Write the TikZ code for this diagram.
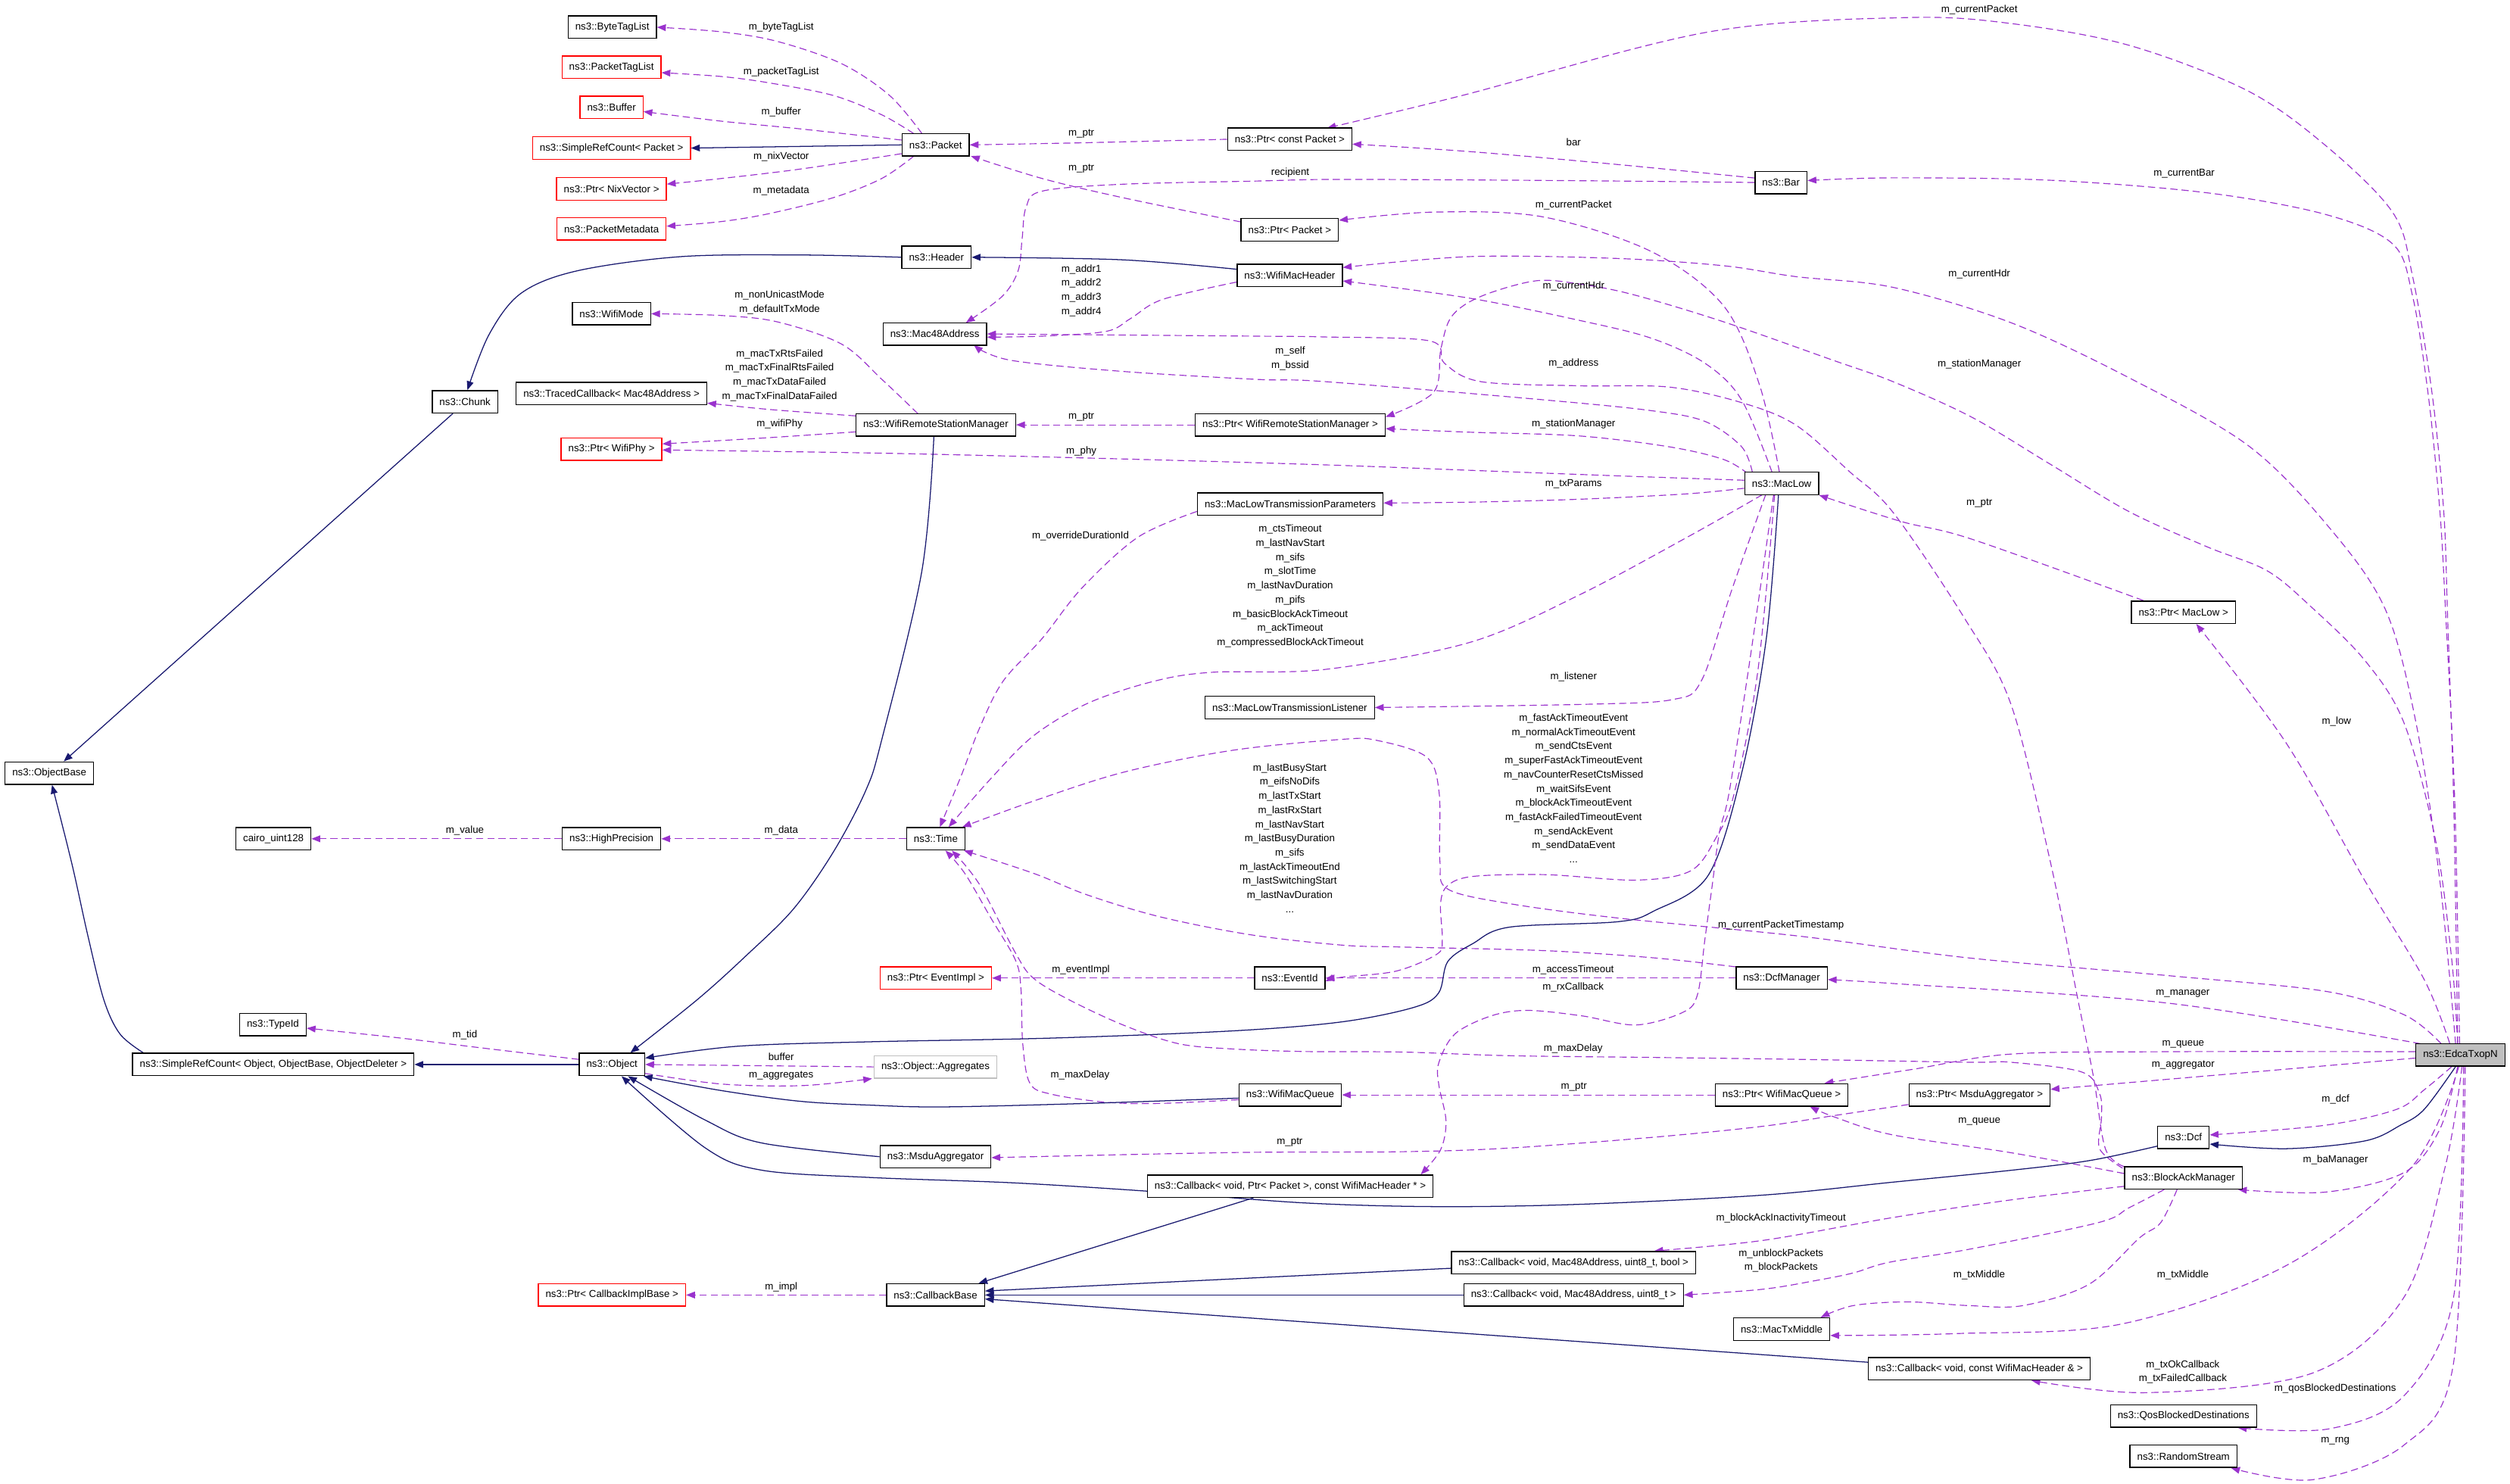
\documentclass[tikz,border=0pt]{standalone}
\usepackage{fontspec}
\setmainfont{Liberation Sans}
\usetikzlibrary{arrows.meta}
\definecolor{purp}{HTML}{9A32CD}
\definecolor{navyc}{HTML}{191970}
\definecolor{grayc}{HTML}{BFBFBF}
\pgfdeclarelayer{bg}
\pgfsetlayers{bg,main}
\tikzset{
 cls/.style={draw=black, line width=0.65pt, minimum height=14pt, inner xsep=4.5pt, inner ysep=0pt, font=\fontsize{6.3}{7.5}\selectfont, fill=white},
 redcls/.style={cls, draw=red},
 graycls/.style={cls, draw=grayc},
 focus/.style={cls, fill=grayc},
 lbl/.style={inner sep=0pt, align=center, font=\fontsize{6.3}{8.85}\selectfont},
 mem/.style={draw=purp, line width=0.55pt, dash pattern=on 4.5pt off 2.5pt, -{Triangle[length=5.5pt,width=4.2pt]}},
 inh/.style={draw=navyc, line width=0.6pt, -{Triangle[length=5.5pt,width=4.2pt]}},
 sm/.style={smooth, tension=0.55},
}
\begin{document}
\begin{tikzpicture}[x=1pt,y=-1pt]
\useasboundingbox (0,0) rectangle (1568,927);
% ---------- nodes ----------
\node[cls] (byteTagList) at (382.5,17) {ns3::ByteTagList};
\node[redcls] (packetTagList) at (382,42) {ns3::PacketTagList};
\node[redcls] (buffer) at (382,67) {ns3::Buffer};
\node[redcls] (srcPacket) at (382,92.5) {ns3::SimpleRefCount< Packet >};
\node[redcls] (nixVector) at (382,118) {ns3::Ptr< NixVector >};
\node[redcls] (pktMeta) at (382,143) {ns3::PacketMetadata};
\node[cls] (packet) at (584.5,90.5) {ns3::Packet};
\node[cls] (header) at (585,160.7) {ns3::Header};
\node[cls] (wifiMode) at (382,196) {ns3::WifiMode};
\node[cls] (mac48) at (584,208.6) {ns3::Mac48Address};
\node[cls] (chunk) at (290.5,251) {ns3::Chunk};
\node[cls] (tracedCb) at (382,245.8) {ns3::TracedCallback< Mac48Address >};
\node[cls] (wrsm) at (584.6,265.4) {ns3::WifiRemoteStationManager};
\node[redcls] (ptrWifiPhy) at (382,280.5) {ns3::Ptr< WifiPhy >};
\node[cls] (ptrConstPacket) at (805.7,87) {ns3::Ptr< const Packet >};
\node[cls] (bar) at (1112.6,114) {ns3::Bar};
\node[cls] (ptrPacket) at (805.7,143.6) {ns3::Ptr< Packet >};
\node[cls] (wifiMacHeader) at (805.7,172) {ns3::WifiMacHeader};
\node[cls] (ptrWrsm) at (806,265.4) {ns3::Ptr< WifiRemoteStationManager >};
\node[cls] (macLow) at (1113,302) {ns3::MacLow};
\node[cls] (mltp) at (806,315) {ns3::MacLowTransmissionParameters};
\node[cls] (mltl) at (805.7,442) {ns3::MacLowTransmissionListener};
\node[cls] (ptrMacLow) at (1364,382.5) {ns3::Ptr< MacLow >};
\node[cls] (eventId) at (805.7,611) {ns3::EventId};
\node[cls] (dcfManager) at (1113,611) {ns3::DcfManager};
\node[cls] (objectBase) at (30.8,483) {ns3::ObjectBase};
\node[cls] (cairo) at (170.8,524) {cairo\_uint128};
\node[cls] (highPrec) at (382,524) {ns3::HighPrecision};
\node[cls] (time) at (584.6,524) {ns3::Time};
\node[redcls] (ptrEventImpl) at (584.6,611) {ns3::Ptr< EventImpl >};
\node[cls] (typeId) at (170.5,640) {ns3::TypeId};
\node[cls] (srcObject) at (170.7,665) {ns3::SimpleRefCount< Object, ObjectBase, ObjectDeleter >};
\node[cls] (object) at (382.3,665) {ns3::Object};
\node[graycls] (aggregates) at (584.4,666.5) {ns3::Object::Aggregates};
\node[cls] (msduAgg) at (584.4,722.6) {ns3::MsduAggregator};
\node[cls] (callbackBase) at (584.4,809) {ns3::CallbackBase};
\node[redcls] (ptrCbImpl) at (382.3,809) {ns3::Ptr< CallbackImplBase >};
\node[cls] (cbRx) at (806,741) {ns3::Callback< void, Ptr< Packet >, const WifiMacHeader * >};
\node[cls] (wifiMacQueue) at (806,684) {ns3::WifiMacQueue};
\node[cls] (ptrWmq) at (1113,684) {ns3::Ptr< WifiMacQueue >};
\node[cls] (ptrMsdu) at (1236.6,684) {ns3::Ptr< MsduAggregator >};
\node[focus] (edca) at (1537,659) {ns3::EdcaTxopN};
\node[cls] (dcf) at (1364,710.5) {ns3::Dcf};
\node[cls] (bam) at (1364,735.8) {ns3::BlockAckManager};
\node[cls] (cbBool) at (983,788.8) {ns3::Callback< void, Mac48Address, uint8\_t, bool >};
\node[cls] (cbU8) at (983,809) {ns3::Callback< void, Mac48Address, uint8\_t >};
\node[cls] (macTxMiddle) at (1113,830.3) {ns3::MacTxMiddle};
\node[cls] (cbHdr) at (1236.4,855) {ns3::Callback< void, const WifiMacHeader \& >};
\node[cls] (qbd) at (1364,884.6) {ns3::QosBlockedDestinations};
\node[cls] (randomStream) at (1364,909.7) {ns3::RandomStream};
% ---------- labels ----------
\node[lbl] (l1) at (488,17) {m\_byteTagList};
\node[lbl] (l2) at (488,45) {m\_packetTagList};
\node[lbl] (l3) at (488,70) {m\_buffer};
\node[lbl] (l4) at (488,98) {m\_nixVector};
\node[lbl] (l5) at (488,119) {m\_metadata};
\node[lbl] (l6) at (675.5,83.6) {m\_ptr};
\node[lbl] (l7) at (675.5,105.5) {m\_ptr};
\node[lbl] (l8) at (983,89) {bar};
\node[lbl] (l9) at (806,107.7) {recipient};
\node[lbl] (l10) at (1236.5,6) {m\_currentPacket};
\node[lbl] (l11) at (1364.4,108.2) {m\_currentBar};
\node[lbl] (l12) at (983,128) {m\_currentPacket};
\node[lbl] (l13) at (1236.5,171.4) {m\_currentHdr};
\node[lbl] (l14) at (983,179) {m\_currentHdr};
\node[lbl] (l15) at (675.5,181.5) {m\_addr1\\m\_addr2\\m\_addr3\\m\_addr4};
\node[lbl] (l16) at (487,189) {m\_nonUnicastMode\\m\_defaultTxMode};
\node[lbl] (l17) at (806,224) {m\_self\\m\_bssid};
\node[lbl] (l18) at (983,226.8) {m\_address};
\node[lbl] (l19) at (1236.5,227.4) {m\_stationManager};
\node[lbl] (l20) at (487,234.5) {m\_macTxRtsFailed\\m\_macTxFinalRtsFailed\\m\_macTxDataFailed\\m\_macTxFinalDataFailed};
\node[lbl] (l21) at (675.5,260.4) {m\_ptr};
\node[lbl] (l22) at (487,265) {m\_wifiPhy};
\node[lbl] (l23) at (983,265) {m\_stationManager};
\node[lbl] (l24) at (675.5,281.7) {m\_phy};
\node[lbl] (l25) at (983,302.4) {m\_txParams};
\node[lbl] (l26) at (1236.5,314.4) {m\_ptr};
\node[lbl] (l27) at (675,335) {m\_overrideDurationId};
\node[lbl] (l28) at (806,366.2) {m\_ctsTimeout\\m\_lastNavStart\\m\_sifs\\m\_slotTime\\m\_lastNavDuration\\m\_pifs\\m\_basicBlockAckTimeout\\m\_ackTimeout\\m\_compressedBlockAckTimeout};
\node[lbl] (l29) at (983,423) {m\_listener};
\node[lbl] (l30) at (1459.6,450.7) {m\_low};
\node[lbl] (l31) at (983,492.5) {m\_fastAckTimeoutEvent\\m\_normalAckTimeoutEvent\\m\_sendCtsEvent\\m\_superFastAckTimeoutEvent\\m\_navCounterResetCtsMissed\\m\_waitSifsEvent\\m\_blockAckTimeoutEvent\\m\_fastAckFailedTimeoutEvent\\m\_sendAckEvent\\m\_sendDataEvent\\...};
\node[lbl] (l32) at (805.7,523.6) {m\_lastBusyStart\\m\_eifsNoDifs\\m\_lastTxStart\\m\_lastRxStart\\m\_lastNavStart\\m\_lastBusyDuration\\m\_sifs\\m\_lastAckTimeoutEnd\\m\_lastSwitchingStart\\m\_lastNavDuration\\...};
\node[lbl] (l33) at (290.4,518.8) {m\_value};
\node[lbl] (l34) at (488,518.8) {m\_data};
\node[lbl] (l35) at (1112.6,578.1) {m\_currentPacketTimestamp};
\node[lbl] (l36) at (675.2,605.8) {m\_eventImpl};
\node[lbl] (l37) at (982.7,605.7) {m\_accessTimeout};
\node[lbl] (l38) at (982.7,617) {m\_rxCallback};
\node[lbl] (l39) at (1363.6,620.6) {m\_manager};
\node[lbl] (l40) at (290.4,646.8) {m\_tid};
\node[lbl] (l41) at (1363.8,652.6) {m\_queue};
\node[lbl] (l42) at (982.7,655) {m\_maxDelay};
\node[lbl] (l43) at (488,660.4) {buffer};
\node[lbl] (l44) at (1363.8,665.3) {m\_aggregator};
\node[lbl] (l45) at (674.7,671.6) {m\_maxDelay};
\node[lbl] (l46) at (488,671.7) {m\_aggregates};
\node[lbl] (l47) at (983.2,679) {m\_ptr};
\node[lbl] (l48) at (1459,687) {m\_dcf};
\node[lbl] (l49) at (1236.5,700.5) {m\_queue};
\node[lbl] (l50) at (805.7,713.7) {m\_ptr};
\node[lbl] (l51) at (1459,724.6) {m\_baManager};
\node[lbl] (l52) at (1112.6,760.9) {m\_blockAckInactivityTimeout};
\node[lbl] (l53) at (1112.6,787.6) {m\_unblockPackets\\m\_blockPackets};
\node[lbl] (l54) at (1236.4,796.4) {m\_txMiddle};
\node[lbl] (l55) at (1363.6,796.4) {m\_txMiddle};
\node[lbl] (l56) at (488,804) {m\_impl};
\node[lbl] (l57) at (1363.6,857) {m\_txOkCallback\\m\_txFailedCallback};
\node[lbl] (l58) at (1458.8,867.6) {m\_qosBlockedDestinations};
\node[lbl] (l59) at (1458.8,900.2) {m\_rng};
% ---------- edges ----------
\begin{pgfonlayer}{bg}
\fill[white] (0,0) rectangle (1568,927);
% Packet
\draw[mem] plot[sm] coordinates {([shift={(-8.5,-7)}]packet.center) (555.8,59.7) (525.8,39.8) (485.7,25.9) (450.7,19.9) (byteTagList.east)};
\draw[mem] plot[sm] coordinates {([shift={(-13.6,-7)}]packet.center) (550.8,71.7) (520.8,59.7) (480.7,51.8) (450.7,47.8) ([shift={(0,3.4)}]packetTagList.east)};
\draw[mem] plot[sm] coordinates {([shift={(0,-3)}]packet.west) (500.8,80.6) (450.7,75.7) ([shift={(0,2.7)}]buffer.east)};
\draw[inh] (packet.west) -- (srcPacket.east);
\draw[mem] plot[sm] coordinates {([shift={(0,5.5)}]packet.west) (500.8,105.5) (450.7,111.5) ([shift={(0,-3)}]nixVector.east)};
\draw[mem] plot[sm] coordinates {([shift={(-13.6,7)}]packet.center) (550.8,111.5) (520.8,123.4) (480.7,133.4) (450.7,138.4) ([shift={(0,-1.7)}]pktMeta.east)};
\draw[mem] plot[sm] coordinates {(ptrConstPacket.west) (676,89.2) (packet.east)};
\draw[mem] plot[sm] coordinates {([shift={(0,-5)}]ptrPacket.west) (701,123.4) (651,111.5) ([shift={(22,7)}]packet.center)};
\draw[mem] plot[sm] coordinates {([shift={(0,-2.8)}]bar.west) (1008.7,102.6) (918.2,94.7) ([shift={(0,3)}]ptrConstPacket.east)};
\draw[mem] plot[sm] coordinates {(bar.west) (1000,113) (900,112.3) (827.7,112.1) (785.2,113.1) (701,115.1) (651,119.4) (641,129.4) (638.5,149.3) (636,169.2) (626,185.2) ([shift={(19.4,-7)}]mac48.center)};
\draw[mem] plot[sm] coordinates {([shift={(-1.7,-7)}]edca.center) (1532.8,501.3) (1529,385.4) (1526.6,319.6) (1519.3,245.8) (1507,172) (1494.7,132.7) (1452.9,91) (1403.7,56.5) (1330,28.3) (1256.3,14.7) (1190,11) (1067,20) (912,60) ([shift={(23.3,-7)}]ptrConstPacket.center)};
\draw[mem] plot[sm] coordinates {([shift={(-0.5,-7)}]edca.center) (1533.5,501.3) (1527.9,385.4) (1524.2,319.6) (1516.8,245.8) (1507,184.4) (1494.7,152.4) (1452.9,134) (1379.2,120.5) (1280.8,112.6) (1182.5,111.1) ([shift={(0,-1.2)}]bar.east)};
\draw[mem] plot[sm] coordinates {([shift={(-1.4,-7)}]macLow.center) (1099.2,240.6) (1076.6,190.9) (1031.3,157) (963.4,135.4) (895.6,132.5) ([shift={(0,-6)}]ptrPacket.east)};
\draw[mem] plot[sm] coordinates {([shift={(-3,-7)}]edca.center) (1524.2,550.5) (1509.4,452.2) (1489.8,380) (1452.9,327) (1403.7,277.8) (1330,236) (1256.3,201.6) (1182.5,179.5) (1121.8,172.8) (1076.6,166) (1008.7,161.4) (918.2,160.3) ([shift={(0,-4.9)}]wifiMacHeader.east)};
\draw[mem] plot[sm] coordinates {([shift={(-6,-7)}]macLow.center) (1087.9,249.7) (1065.2,227) (1031.3,211.2) (986,200) (918.2,186.3) ([shift={(0,3.5)}]wifiMacHeader.east)};
\draw[inh] plot[sm] coordinates {([shift={(0,-3.8)}]wifiMacHeader.west) (701,162.3) (header.east)};
\draw[inh] plot[sm] coordinates {(header.west) (500.8,159.3) (425.6,160.3) (360.5,169.2) (325.5,183.2) (305.5,209) ([shift={(1.5,0)}]chunk.north)};
\draw[inh] ([shift={(-7.6,0)}]chunk.south) -- ([shift={(9,0)}]objectBase.north);
\draw[mem] plot[sm] coordinates {([shift={(0,4.2)}]wifiMacHeader.west) (726.1,187.1) (706.1,199.1) (691,207) (651,210) ([shift={(0,2)}]mac48.east)};
\draw[mem] plot[sm] coordinates {([shift={(-18.3,-7)}]macLow.center) (1087.9,279) (1065.2,263.3) (1031.3,256.5) (963.4,249.7) (827.7,238.4) (785,237) (701,232) (631,225) ([shift={(24.4,7)}]mac48.center)};
\draw[mem] plot[sm] coordinates {([shift={(-37,-7)}]bam.center) (1315.2,717.6) (1307.9,673.4) (1298,624.2) (1280.8,538.2) (1256.2,439.9) (1226.7,385.4) (1182.5,320) (1155.8,295) (1121.8,265.5) (1087.9,251.5) (1042.6,241.8) (986,241) (925,238.4) (902.4,227) (893.3,213) (827.7,210.5) (785,210) (mac48.east)};
\draw[mem] (ptrWrsm.west) -- (wrsm.east);
\draw[mem] plot[sm] coordinates {([shift={(-21,-6)}]macLow.center) (1076.6,287) (1042.6,279.1) (986.1,272.3) (918.2,270) ([shift={(0,2.4)}]ptrWrsm.east)};
\draw[mem] plot[sm] coordinates {([shift={(-1.7,-7)}]edca.center) (1531.6,599.6) (1521.7,525.9) (1502,452.2) (1477.5,412.8) (1443,378.4) (1416,356.4) (1379,341.7) (1330,319.6) (1280.8,290) (1231.7,260.6) (1182.5,238.4) (1144.4,224.8) (1076.6,201) (1020,184) (986,177.3) (958.9,175.5) (925,185.2) (906.9,197.6) (900.1,218) (895.6,245) ([shift={(0,-5)}]ptrWrsm.east)};
\draw[mem] plot[sm] coordinates {([shift={(0,-2)}]macLow.west) (1008.7,297.2) (918.2,293.8) (827.7,290.4) (701,286.7) (550.8,283.1) ([shift={(0,0.6)}]ptrWifiPhy.east)};
\draw[mem] plot[sm] coordinates {([shift={(0,4.4)}]wrsm.west) (475.7,273.7) ([shift={(0,-3.2)}]ptrWifiPhy.east)};
\draw[mem] plot[sm] coordinates {([shift={(0,-5.6)}]wrsm.west) (480.7,255.8) ([shift={(0,6)}]tracedCb.east)};
\draw[mem] plot[sm] coordinates {([shift={(-11.2,-7)}]wrsm.center) (550.8,236.9) (525.8,215) (485.7,201.1) (450.7,197.1) (wifiMode.east)};
\draw[inh] plot[sm] coordinates {([shift={(-1.2,0)}]wrsm.south) (575.9,356.6) (550.8,462.2) (540.8,493.9) (520.8,531.9) (495.7,567.8) (465.7,597.4) (435.7,624.4) ([shift={(11.5,0)}]object.north)};
\draw[mem] plot[sm] coordinates {([shift={(0,3)}]macLow.west) (1054,308.5) (986.1,311.9) (918.2,313.7) ([shift={(0,-0.8)}]mltp.east)};
\draw[mem] plot[sm] coordinates {([shift={(0,4.5)}]mltp.west) (711,335.5) (676,367.2) (651,398.9) (626.5,425.7) (611.8,455.1) (600.5,484.5) ([shift={(2.5,0)}]time.north)};
\draw[mem] plot[sm] coordinates {([shift={(-12,7)}]macLow.center) (1054,335.6) (986.1,371.9) (918.2,401.3) (827.7,418.2) (756.8,420) (720.4,425.7) (679.6,439.3) (645.7,459.6) (618.6,486.8) ([shift={(8,0)}]time.north)};
\draw[mem] plot[sm] coordinates {([shift={(-10,7)}]macLow.center) (1082,368) (1063,425) (1045,437) (989.6,440) (mltl.east)};
\draw[mem] plot[sm] coordinates {([shift={(-28.7,-7)}]dcfManager.center) (1033.4,598.4) (965.5,593.9) (875,591.6) (838,590.4) (781.5,584) (724.9,572.8) (679.6,559.2) (645.7,545.6) ([shift={(-1,0)}]time.south east)};
\draw[mem] plot[sm] coordinates {([shift={(-4.4,7)}]macLow.center) (1098,420) (1083.1,496.6) (1071.8,523.7) (1056,544.1) (1022,549.8) (965.5,546.4) (920.2,547.5) (904.4,553.2) (899.9,564.5) (901,587.1) (897.6,596.1) (872,606.7) (838,610.5) ([shift={(0,2)}]eventId.east)};
\draw[mem] (dcfManager.west) -- (eventId.east);
\draw[mem] (eventId.west) -- (ptrEventImpl.east);
\draw[mem] (time.west) -- (highPrec.east);
\draw[mem] (highPrec.west) -- (cairo.east);
\draw[mem] plot[sm] coordinates {([shift={(-12,-7)}]edca.center) (1502,634) (1452.9,619.3) (1354.6,609.5) (1229.7,598.4) (1123.9,584.8) (1010.7,573.5) (942.9,564.5) (904.4,555.4) (899.5,538) (899,495) (891,472.8) (860,462.5) (838,461.9) (770.1,468.7) (702.3,482.3) (645.7,500.4) ([shift={(-2,0)}]time.north east)};
\draw[mem] plot[sm] coordinates {([shift={(0,3)}]wifiMacQueue.west) (724.9,689.3) (691,688.6) (657,683.6) (643.4,676.8) (638.9,652) (637.8,618) (634.4,599.9) (618.6,572.8) (602.7,545.6) ([shift={(6,0)}]time.south)};
\draw[mem] plot[sm] coordinates {([shift={(-38,-6)}]bam.center) (1311.6,717.6) (1312.8,698) (1311.6,683.2) (1300.5,669.7) (1256.2,663.6) (1229.7,663.6) (1123.9,661.8) (1033.4,660.6) (942.9,659.5) (875,657.2) (815.4,656.9) (770.1,655.3) (736.2,652) (702.3,640.6) (668.3,624.8) (645.7,611.2) (634.4,595.4) (611.8,552.4) ([shift={(10,0)}]time.south)};
\draw[inh] plot[sm] coordinates {([shift={(-2,0)}]macLow.south) (1103.4,398.9) (1088,483) (1067.2,546.7) (1033.4,569) (1010.7,575.8) (942.9,579.2) (920.2,589.4) (904.4,600.7) (898.7,620.3) (883.3,629.3) (838,638.4) (770.1,644) (657,648.5) (543.9,650.8) (460.7,653.6) ([shift={(0,-4)}]object.east)};
\draw[mem] plot[sm] coordinates {([shift={(-5,7)}]macLow.center) (1092,420) (1080,496) (1074.1,520) (1069.6,553.2) (1065,587.1) (1060.5,621) (1051.5,632.3) (1022,640.3) (988.1,634.6) (954.2,631.2) (931.6,634.6) (908.9,645.9) (898.8,664) (898.8,677.6) (903.3,700.2) (899.9,718.3) ([shift={(-8,0)}]cbRx.north east)};
% Object
\draw[inh] (object.west) -- (srcObject.east);
\draw[inh] plot[sm] coordinates {([shift={(7,0)}]srcObject.north west) (75,646) (65,625) (55,585) (45,540) ([shift={(1.7,0)}]objectBase.south)};
\draw[mem] plot[sm] coordinates {([shift={(0,-3.2)}]object.west) (300.5,654.6) (250.4,648.5) ([shift={(0,2.3)}]typeId.east)};
\draw[mem] (aggregates.west) -- (object.east);
\draw[mem] plot[sm] coordinates {([shift={(0,5.6)}]object.east) (450.7,677.2) (500.8,678.2) ([shift={(-1,0)}]aggregates.south west)};
\draw[inh] plot[sm] coordinates {([shift={(0,2)}]wifiMacQueue.west) (679.6,689.3) (589.1,691.5) (543.9,690.4) (500,688) (450.7,681.3) ([shift={(-1,0)}]object.south east)};
\draw[inh] plot[sm] coordinates {(msduAgg.west) (475.7,714) (440.7,699.8) ([shift={(10,0)}]object.south)};
\draw[inh] plot[sm] coordinates {([shift={(0,5.5)}]dcf.west) (1305.4,725) (1256.2,731.1) (1182.5,738.5) (1101.2,746.6) (988.1,752.3) (898.7,753.8) (815.4,751.5) (724.9,744.7) (634.4,739) (543.9,735.6) (475.7,731) (440.7,717.2) ([shift={(6,0)}]object.south)};
% Callbacks
\draw[inh] ([shift={(-23,0)}]cbRx.south) -- ([shift={(-4,0)}]callbackBase.north east);
\draw[inh] ([shift={(0,3.5)}]cbBool.west) -- ([shift={(0,-2.5)}]callbackBase.east);
\draw[inh] (cbU8.west) -- (callbackBase.east);
\draw[inh] ([shift={(0,-4)}]cbHdr.west) -- ([shift={(0,2.5)}]callbackBase.east);
\draw[mem] (callbackBase.west) -- (ptrCbImpl.east);
\draw[mem] (ptrWmq.west) -- (wifiMacQueue.east);
\draw[mem] plot[sm] coordinates {([shift={(0,6)}]ptrMsdu.west) (1146.5,696.8) (1101.2,703.6) (1033.4,710.4) (942.9,717.2) (875,719.5) (770.1,720) ([shift={(0,0.6)}]msduAgg.east)};
% EdcaTxopN
\draw[mem] plot[sm] coordinates {([shift={(-25,-7)}]edca.center) (1354.6,626.7) (1182.5,614.4) ([shift={(0,1)}]dcfManager.east)};
\draw[mem] plot[sm] coordinates {([shift={(0,-2)}]edca.west) (1354.6,657) (1256.2,658.5) (1195,668) ([shift={(-15,0)}]ptrWmq.north east)};
\draw[mem] ([shift={(0,2)}]edca.west) -- ([shift={(0,-3.5)}]ptrMsdu.east);
\draw[inh] plot[sm] coordinates {([shift={(-3,0)}]edca.south) (1514.4,693) (1499.6,702.9) (1477.5,712.7) (1428.3,717.6) ([shift={(0,4.2)}]dcf.east)};
\draw[mem] plot[sm] coordinates {([shift={(-5.4,0)}]edca.south) (1514.4,680.8) (1497.2,693) (1452.9,702.9) ([shift={(0,-1.5)}]dcf.east)};
\draw[mem] plot[sm] coordinates {([shift={(-1.7,0)}]edca.south) (1524.2,705.3) (1502,732.4) (1452.9,744.7) ([shift={(-3,0)}]bam.south east)};
\draw[mem] plot[sm] coordinates {([shift={(0,-2.7)}]bam.west) (1256.2,720.1) (1182.5,709) (1146.5,698) ([shift={(17.7,0)}]ptrWmq.south)};
\draw[mem] plot[sm] coordinates {([shift={(0,5.3)}]bam.west) (1256.2,749.6) (1182.5,760.6) (1101.2,774.9) ([shift={(50.4,0)}]cbBool.north)};
\draw[mem] plot[sm] coordinates {([shift={(-12,0)}]bam.south) (1330,754.5) (1310.3,763.9) (1229.7,780.5) (1180.4,788.5) (1157.8,795.2) (1135.2,799.8) (1101.2,805.4) (cbU8.east)};
\draw[mem] plot[sm] coordinates {([shift={(-4,0)}]bam.south) (1349.7,763.9) (1336.2,773.6) (1305,802.3) (1263.8,815.6) (1229.7,815.6) (1191.7,813.3) (1157.8,815.6) ([shift={(-6,0)}]macTxMiddle.north east)};
\draw[mem] plot[sm] coordinates {([shift={(-1,0)}]edca.south) (1507,728.5) (1429.3,790) (1325.9,827) (1222.4,833.1) ([shift={(0,4)}]macTxMiddle.east)};
\draw[mem] plot[sm] coordinates {([shift={(1,0)}]edca.south) (1527.6,728.5) (1501.7,810.5) (1444.8,857.7) (1341.4,870) ([shift={(32.6,0)}]cbHdr.south)};
\draw[mem] plot[sm] coordinates {([shift={(2,0)}]edca.south) (1532.7,810.5) (1501.7,872) (1455,892.6) ([shift={(-12,0)}]qbd.south east)};
\draw[mem] plot[sm] coordinates {([shift={(3,0)}]edca.south) (1532.7,851.6) (1501.7,902.8) (1444.6,924.4) ([shift={(-4,0)}]randomStream.south east)};
\draw[mem] plot[sm] coordinates {([shift={(-6.7,0)}]edca.north) (1514.4,612) (1477.5,550.5) (1428.3,464.4) ([shift={(8,0)}]ptrMacLow.south)};
\draw[mem] plot[sm] coordinates {([shift={(-25,0)}]ptrMacLow.north) (1231.7,336.8) (1187.4,325.7) (macLow.south east)};
\end{pgfonlayer}
\end{tikzpicture}
\end{document}
